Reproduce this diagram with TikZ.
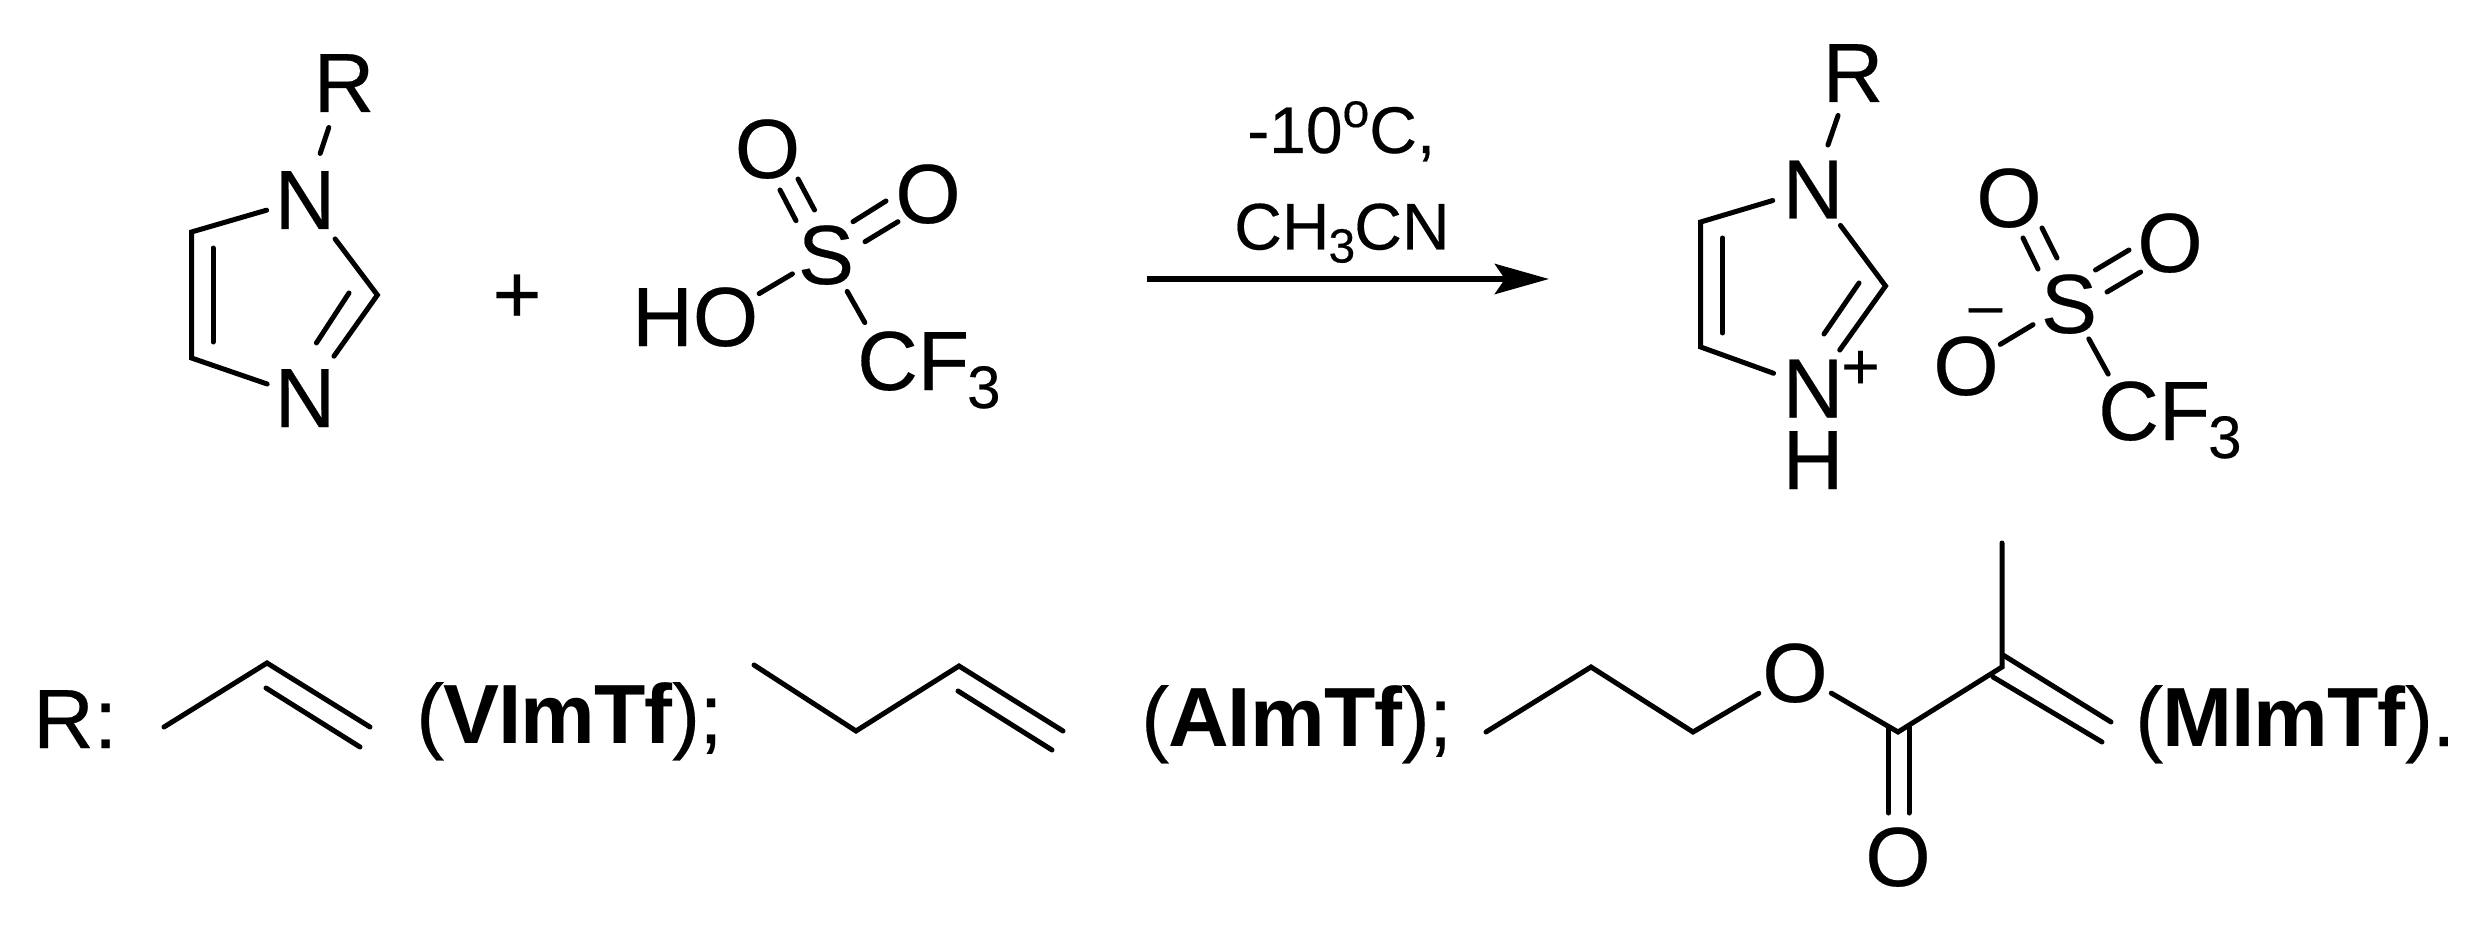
\documentclass[tikz,border=0pt]{standalone}
\usepackage{fontspec}
\setmainfont{Liberation Sans}[UprightFeatures={FakeBold=0.3}]
\newfontfamily\tightfont{Liberation Sans}[LetterSpace=-1.1,UprightFeatures={FakeBold=0.3}]
\usetikzlibrary{arrows.meta}
\newcommand{\bigfs}{\fontsize{84}{84}\selectfont}
\newcommand{\subthree}{\hspace{-2pt}\raisebox{-18pt}{\fontsize{60}{60}\selectfont 3}}
\newcommand{\subthreesm}{\hspace{-1pt}\raisebox{-13pt}{\fontsize{48}{48}\selectfont 3}\hspace{-1pt}}
\tikzset{
  atom/.style={font=\bigfs,inner sep=0pt,text height=60pt,text depth=0pt},
  basetext/.style={font=\bigfs,inner sep=0pt,anchor=base west},
  labeltext/.style={font=\bigfs\tightfont,inner sep=0pt,anchor=base west},
  reagent/.style={font=\fontsize{66}{66}\selectfont,inner sep=0pt,anchor=base west},
  charge/.style={font=\fontsize{66}{66}\selectfont,inner sep=0pt,anchor=base},
  minussign/.style={font=\fontsize{60}{60}\selectfont,inner sep=0pt,anchor=base},
  plussign/.style={font=\bigfs,inner sep=0pt,anchor=base},
  bond/.style={line width=5pt,line cap=round,line join=miter,draw=black},
  trim/.style={shorten <=#1,shorten >=#1},
  trims/.style 2 args={shorten <=#1,shorten >=#2},
  rxnarrow/.style={line width=6.3pt,-{Stealth[length=54pt,width=30pt,inset=10pt]}}
}
\begin{document}
\begin{tikzpicture}[x=1pt,y=-1pt]
\path[fill=white,use as bounding box] (0,0) rectangle (2485,928);

% ---------- imidazole
\node[atom] (Ra) at (344,82) {R};
\node[atom] (Na1) at (305,199) {N};
\node[atom] (Na3) at (305,397) {N};
\coordinate (Ca4) at (191.5,232);
\coordinate (Ca5) at (191.5,358);
\coordinate (Ca2) at (377.4,295);
\coordinate (ia1) at (213,248);
\coordinate (ia2) at (213,342);
\coordinate (ia3) at (349,293);
\coordinate (ia4) at (316.4,343);
\draw[bond,trim=48pt] (Ra.center) -- (Na1.center);
\draw[bond,trim=40pt] (Na1.center) -- (Ca4) -- (Ca5) -- (Na3.center);
\draw[bond,trim=50pt] (Na1.center) -- (Ca2) -- (Na3.center);
\draw[bond] (ia1) -- (ia2);
\draw[bond] (ia3) -- (ia4);

\node[plussign] (plus) at (517,323) {+};

% ---------- triflic acid
\node[atom] (Oa1) at (767.5,148) {O};
\node[atom] (Oa2) at (928,193) {O};
\node[atom] (Sa) at (826,254) {S};
\node[basetext] (HOa) at (632,346) {HO};
\coordinate (Oa3) at (723,315);
\node[basetext] (CFa) at (857,390) {CF\subthree};
\coordinate (Cfa) at (886,360);
\coordinate (sa1) at (780,190);
\coordinate (sa2) at (796,220.7);
\coordinate (sa3) at (798,179);
\coordinate (sa4) at (814.5,210);
\coordinate (sa5) at (853,221.7);
\coordinate (sa6) at (886,201);
\coordinate (sa7) at (865,241.7);
\coordinate (sa8) at (898,221.7);
\draw[bond] (sa1) -- (sa2);
\draw[bond] (sa3) -- (sa4);
\draw[bond] (sa5) -- (sa6);
\draw[bond] (sa7) -- (sa8);
\draw[bond,trims={42pt}{39pt}] (Oa3) -- (Sa.center);
\draw[bond,trim=43pt] (Sa.center) -- (Cfa);

% ---------- reaction arrow
\node[reagent] (cond1) at (1247,153) {-10\raisebox{26pt}{\fontsize{48}{48}\selectfont o}C,};
\node[reagent] (cond2) at (1234,249.5) {CH\subthreesm CN};
\coordinate (arS) at (1147,279);
\coordinate (arE) at (1549,279);
\draw[rxnarrow] (arS) -- (arE);

% ---------- imidazolium
\node[atom] (Rb) at (1853,72) {R};
\node[atom] (Nb1) at (1813,188.5) {N};
\node[atom] (Nb3) at (1813,387.5) {N};
\node[atom] (Hb) at (1813,459) {H};
\node[charge] (plusb) at (1860.5,389) {+};
\coordinate (Cb4) at (1700.7,222);
\coordinate (Cb5) at (1700.7,347);
\coordinate (Cb2) at (1885.5,286);
\coordinate (ib1) at (1722.5,238);
\coordinate (ib2) at (1722.5,333);
\coordinate (ib3) at (1859,283);
\coordinate (ib4) at (1824,334);
\draw[bond,trim=46pt] (Rb.center) -- (Nb1.center);
\draw[bond,trim=42pt] (Nb1.center) -- (Cb4) -- (Cb5) -- (Nb3.center);
\draw[bond,trim=46pt] (Nb1.center) -- (Cb2) -- (Nb3.center);
\draw[bond] (ib1) -- (ib2);
\draw[bond] (ib3) -- (ib4);

% ---------- triflate
\node[atom] (Ob1) at (2009,197) {O};
\node[atom] (Ob2) at (2170,242) {O};
\node[atom] (Sb) at (2069,303) {S};
\node[atom] (Ob3) at (1966,365) {O};
\node[minussign] (minusb) at (1985.5,325.5) {–};
\node[basetext] (CFb) at (2098,440) {CF\subthree};
\coordinate (Cfb) at (2128,410);
\coordinate (sb1) at (2023,238);
\coordinate (sb2) at (2038,269);
\coordinate (sb3) at (2042,228);
\coordinate (sb4) at (2057,258);
\coordinate (sb5) at (2095.5,270);
\coordinate (sb6) at (2129,250);
\coordinate (sb7) at (2107,292);
\coordinate (sb8) at (2140.6,272);
\draw[bond] (sb1) -- (sb2);
\draw[bond] (sb3) -- (sb4);
\draw[bond] (sb5) -- (sb6);
\draw[bond] (sb7) -- (sb8);
\draw[bond,trims={40pt}{42pt}] (Ob3.center) -- (Sb.center);
\draw[bond,trim=41pt] (Sb.center) -- (Cfb);

% ---------- bottom row
\node[basetext] (Rlab) at (33,748) {R:};

\coordinate (v1) at (164,727);
\coordinate (v2) at (267,663);
\coordinate (v3) at (370,727);
\coordinate (v4) at (266,688);
\coordinate (v5) at (360,747);
\draw[bond] (v1) -- (v2) -- (v3);
\draw[bond] (v4) -- (v5);
\node[labeltext] (Vlab) at (416,743) {(\textbf{VImTf});};

\coordinate (a1) at (754,665);
\coordinate (a2) at (856,731);
\coordinate (a3) at (959,666);
\coordinate (a4) at (1063,731);
\coordinate (a5) at (958,691);
\coordinate (a6) at (1052,750);
\draw[bond] (a1) -- (a2) -- (a3) -- (a4);
\draw[bond] (a5) -- (a6);
\node[labeltext] (Alab) at (1141,746) {(\textbf{AImTf});};

\coordinate (m1) at (1486,732);
\coordinate (m2) at (1591,667);
\coordinate (m3) at (1693,732);
\node[atom] (Om) at (1795,672) {O};
\coordinate (m4) at (1898,732);
\coordinate (m5) at (2002,667);
\coordinate (m6) at (2002,543);
\coordinate (m7) at (2003,655);
\coordinate (m8) at (2111,722);
\coordinate (m9) at (1993,677);
\coordinate (m10) at (2102,742);
\coordinate (m11) at (1888.5,727);
\coordinate (m12) at (1888.5,813);
\coordinate (m13) at (1909,727);
\coordinate (m14) at (1909,813);
\node[atom] (Om2) at (1898,856) {O};
\draw[bond,shorten >=42pt] (m1) -- (m2) -- (m3) -- (Om.center);
\draw[bond,shorten <=42pt] (Om.center) -- (m4) -- (m5) -- (m6);
\draw[bond] (m7) -- (m8);
\draw[bond] (m9) -- (m10);
\draw[bond] (m11) -- (m12);
\draw[bond] (m13) -- (m14);
\node[labeltext] (Mlab) at (2135,746) {(\textbf{MImTf}).};
\end{tikzpicture}
\end{document}
